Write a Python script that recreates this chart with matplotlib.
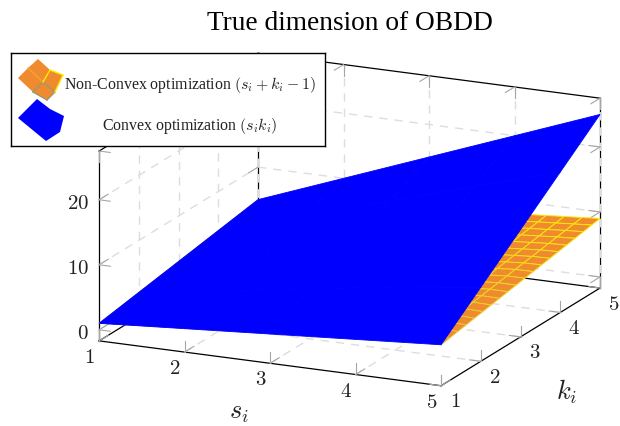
# -*- coding: utf-8 -*-
import numpy as np
import matplotlib; matplotlib.use("Agg")
import matplotlib.pyplot as plt
from matplotlib.colors import LinearSegmentedColormap
from mpl_toolkits.mplot3d import proj3d

TITLE = "True dimension of OBDD"
LEGEND_LABELS = [r"Non-Convex optimization $(s_i + k_i - 1)$", r"Convex optimization $(s_i k_i)$"]

s_ticks = [1, 2, 3, 4, 5]
k_ticks = [1, 2, 3, 4, 5]
z_ticks = [0, 10, 20]
z_lims = (-1.7, 27.5)

# convex surface, rows are k, columns are s
z_convex = [[1, 1.9, 2.8, 3.7, 4.6],
            [2, 4, 6, 8, 9.7],
            [3, 6, 9, 12, 14.8],
            [4, 8, 12, 16, 19.9],
            [5, 10, 15, 20, 25]]

# non-convex surface on the 20 sample mesh
samples = [1.00, 1.21, 1.42, 1.63, 1.84, 2.05, 2.26, 2.47, 2.68, 2.89,
           3.11, 3.32, 3.53, 3.74, 3.95, 4.16, 4.37, 4.58, 4.79, 5.00]
z_nonconvex = [
    [1.00, 1.21, 1.42, 1.63, 1.84, 2.05, 2.26, 2.47, 2.68, 2.89, 3.11, 3.32, 3.53, 3.74, 3.95, 4.16, 4.37, 4.58, 4.79, 4.60],
    [1.21, 1.42, 1.63, 1.84, 2.05, 2.26, 2.47, 2.68, 2.89, 3.11, 3.32, 3.53, 3.74, 3.95, 4.16, 4.37, 4.58, 4.79, 5.00, 4.83],
    [1.42, 1.63, 1.84, 2.05, 2.26, 2.47, 2.68, 2.89, 3.11, 3.32, 3.53, 3.74, 3.95, 4.16, 4.37, 4.58, 4.79, 5.00, 5.21, 5.06],
    [1.63, 1.84, 2.05, 2.26, 2.47, 2.68, 2.89, 3.11, 3.32, 3.53, 3.74, 3.95, 4.16, 4.37, 4.58, 4.79, 5.00, 5.21, 5.42, 5.29],
    [1.84, 2.05, 2.26, 2.47, 2.68, 2.89, 3.11, 3.32, 3.53, 3.74, 3.95, 4.16, 4.37, 4.58, 4.79, 5.00, 5.21, 5.42, 5.63, 5.53],
    [2.05, 2.26, 2.47, 2.68, 2.89, 3.11, 3.32, 3.53, 3.74, 3.95, 4.16, 4.37, 4.58, 4.79, 5.00, 5.21, 5.42, 5.63, 5.84, 5.76],
    [2.26, 2.47, 2.68, 2.89, 3.11, 3.32, 3.53, 3.74, 3.95, 4.16, 4.37, 4.58, 4.79, 5.00, 5.21, 5.42, 5.63, 5.84, 6.05, 5.99],
    [2.47, 2.68, 2.89, 3.11, 3.32, 3.53, 3.74, 3.95, 4.16, 4.37, 4.58, 4.79, 5.00, 5.21, 5.42, 5.63, 5.84, 6.05, 6.26, 6.22],
    [2.68, 2.89, 3.11, 3.32, 3.53, 3.74, 3.95, 4.16, 4.37, 4.58, 4.79, 5.00, 5.21, 5.42, 5.63, 5.84, 6.05, 6.26, 6.47, 6.45],
    [2.89, 3.11, 3.32, 3.53, 3.74, 3.95, 4.16, 4.37, 4.58, 4.79, 5.00, 5.21, 5.42, 5.63, 5.84, 6.05, 6.26, 6.47, 6.68, 6.68],
    [3.11, 3.32, 3.53, 3.74, 3.95, 4.16, 4.37, 4.58, 4.79, 5.00, 5.21, 5.42, 5.63, 5.84, 6.05, 6.26, 6.47, 6.68, 6.89, 6.92],
    [3.32, 3.53, 3.74, 3.95, 4.16, 4.37, 4.58, 4.79, 5.00, 5.21, 5.42, 5.63, 5.84, 6.05, 6.26, 6.47, 6.68, 6.89, 7.11, 7.15],
    [3.53, 3.74, 3.95, 4.16, 4.37, 4.58, 4.79, 5.00, 5.21, 5.42, 5.63, 5.84, 6.05, 6.26, 6.47, 6.68, 6.89, 7.11, 7.32, 7.38],
    [3.74, 3.95, 4.16, 4.37, 4.58, 4.79, 5.00, 5.21, 5.42, 5.63, 5.84, 6.05, 6.26, 6.47, 6.68, 6.89, 7.11, 7.32, 7.53, 7.61],
    [3.95, 4.16, 4.37, 4.58, 4.79, 5.00, 5.21, 5.42, 5.63, 5.84, 6.05, 6.26, 6.47, 6.68, 6.89, 7.11, 7.32, 7.53, 7.74, 7.84],
    [4.16, 4.37, 4.58, 4.79, 5.00, 5.21, 5.42, 5.63, 5.84, 6.05, 6.26, 6.47, 6.68, 6.89, 7.11, 7.32, 7.53, 7.74, 7.95, 8.07],
    [4.37, 4.58, 4.79, 5.00, 5.21, 5.42, 5.63, 5.84, 6.05, 6.26, 6.47, 6.68, 6.89, 7.11, 7.32, 7.53, 7.74, 7.95, 8.16, 8.31],
    [4.58, 4.79, 5.00, 5.21, 5.42, 5.63, 5.84, 6.05, 6.26, 6.47, 6.68, 6.89, 7.11, 7.32, 7.53, 7.74, 7.95, 8.16, 8.37, 8.54],
    [4.79, 5.00, 5.21, 5.42, 5.63, 5.84, 6.05, 6.26, 6.47, 6.68, 6.89, 7.11, 7.32, 7.53, 7.74, 7.95, 8.16, 8.37, 8.58, 8.77],
    [5.00, 5.21, 5.42, 5.63, 5.84, 6.05, 6.26, 6.47, 6.68, 6.89, 7.11, 7.32, 7.53, 7.74, 7.95, 8.16, 8.37, 8.58, 8.79, 9.00],
]

ORANGE = "#f08a2e"
BLUE = "#0000ff"
GRID = "#dddddd"
TICK = "#a6a6a6"
mesh_cmap = LinearSegmentedColormap.from_list("mesh", ["#9a9a72", "#e0c83a", "#ffee00"])

W, H = 620, 426
plt.rcParams.update({"font.family": "Liberation Serif", "mathtext.fontset": "cm"})
fig = plt.figure(figsize=(W/100, H/100), dpi=100)

# main 3d axes, the square is bigger than the figure on purpose
L = 553.2
ax = fig.add_axes([65.5/W, -77.6/H, L/W, L/H], projection="3d", computed_zorder=False)
ax.set_proj_type("ortho")
ax.view_init(elev=16.5, azim=-65.2)
ax.set_box_aspect((376.7, 379, 198))
ax.set_xlim(s_ticks[0], s_ticks[-1], view_margin=0)
ax.set_ylim(k_ticks[0], k_ticks[-1], view_margin=0)
ax.set_zlim(*z_lims, view_margin=0)
ax.set_axis_off()

s0, s1 = s_ticks[0], s_ticks[-1]
k0, k1 = k_ticks[0], k_ticks[-1]
z0, z1 = z_lims
ds, dk, dz = 0.13, 0.23, 1.7  # tick lengths in data units

def seg(a, b, **kw):
    ax.plot([a[0], b[0]], [a[1], b[1]], [a[2], b[2]], **kw)

axis_kw = dict(color="black", lw=0.9, zorder=1)
grid_kw = dict(color=GRID, lw=1.0, ls=(0, (6, 5)), zorder=2)
tick_kw = dict(color=TICK, lw=0.8, zorder=3)

# box edges, the two front verticals stay open
for a, b in [((s0, k0, z0), (s1, k0, z0)), ((s1, k0, z0), (s1, k1, z0)),
             ((s0, k0, z0), (s0, k1, z0)), ((s0, k1, z0), (s1, k1, z0)),
             ((s0, k0, z0), (s0, k0, z1)), ((s0, k1, z0), (s0, k1, z1)),
             ((s1, k1, z0), (s1, k1, z1)), ((s0, k0, z1), (s0, k1, z1)),
             ((s0, k1, z1), (s1, k1, z1))]:
    seg(a, b, **axis_kw)

for s in s_ticks:
    seg((s, k1, z0), (s, k1, z1), **grid_kw)
    if s0 < s < s1:
        seg((s, k0, z0), (s, k1, z0), **grid_kw)
    seg((s, k0, z0), (s, k0, z0+dz), **tick_kw)
    seg((s, k0, z0), (s, k0+dk, z0), **tick_kw)
    seg((s, k1, z1), (s, k1, z1-dz), **tick_kw)
    seg((s, k1, z1), (s, k1-dk, z1), **tick_kw)

for k in k_ticks:
    if k > k0:
        seg((s0, k, z0), (s0, k, z1), **grid_kw)
    if k0 < k < k1:
        seg((s0, k, z0), (s1, k, z0), **grid_kw)
    seg((s1, k, z0), (s1, k, z0+dz), **tick_kw)
    seg((s1, k, z0), (s1-ds, k, z0), **tick_kw)
    seg((s0, k, z1), (s0, k, z1-dz), **tick_kw)
    seg((s0, k, z1), (s0+ds, k, z1), **tick_kw)

for z in z_ticks:
    seg((s0, k0, z), (s0, k1, z), **grid_kw)
    seg((s0, k1, z), (s1, k1, z), **grid_kw)
    seg((s0, k0, z), (s0, k0+dk, z), **tick_kw)
    seg((s0, k0, z), (s0+ds, k0, z), **tick_kw)
    seg((s1, k1, z), (s1-ds, k1, z), **tick_kw)
    seg((s1, k1, z), (s1, k1-dk, z), **tick_kw)
    seg((s0, k1, z), (s0, k1-dk, z), **tick_kw)

# surfaces, orange first so the blue one hides it
Sn, Kn = np.meshgrid(samples, samples)
Zn = np.array(z_nonconvex)
orange = ax.plot_surface(Sn, Kn, Zn, rstride=1, cstride=1, color=ORANGE, shade=False,
                         linewidth=0.7, zorder=5)
zc = (Zn[:-1, :-1] + Zn[1:, 1:]) / 2
orange.set_edgecolor(mesh_cmap((zc.ravel() - Zn.min()) / (Zn.max() - Zn.min())))

Sc, Kc = np.meshgrid(s_ticks, k_ticks)
ax.plot_surface(Sc, Kc, np.array(z_convex), rstride=1, cstride=1, color=BLUE, edgecolor=BLUE,
                shade=False, linewidth=0.6, zorder=6)

def label(txt, s, k, z, dx, dy, size=15):
    x, y, _ = proj3d.proj_transform(s, k, z, ax.get_proj())
    ax.annotate(txt, (x, y), xytext=(dx, -dy), textcoords="offset pixels",
                ha="center", va="center", fontsize=size, color="#222222")

for s in s_ticks:
    label(f"${s}$", s, k0, z0, -9.5, 17.5)
for k in k_ticks:
    label(f"${k}$", s1, k, z0, 14, 17)
for z in z_ticks:
    x, y, _ = proj3d.proj_transform(s0, k0, z, ax.get_proj())
    ax.annotate(f"${z}$", (x, y), xytext=(-10, -5), textcoords="offset pixels",
                ha="right", va="center", fontsize=15, color="#222222")
label(r"$s_i$", s_ticks[2], k0, z0, -31, 51, size=19)
label(r"$k_i$", s1, k_ticks[2], z0, 46.5, 55, size=19)

fig.suptitle(TITLE, x=350/W, y=1-24/H, va="center", fontsize=19.7)

# legend box, drawn as its own small axes in picture pixels
lg = fig.add_axes([10.5/W, 1-146/H, 314/W, 93/H], zorder=10)
lg.set_xlim(10.5, 324.5); lg.set_ylim(146, 53)
lg.set_xticks([]); lg.set_yticks([])
for sp in lg.spines.values():
    sp.set_linewidth(1.0)

# legend image of the orange mesh, 3x3 nodes
ix = np.array([[18, 28, 38], [33, 43, 50], [47, 55, 63]])
iy = np.array([[78, 68, 59], [92, 82, 70], [100, 92, 75]])
lg.fill(np.r_[ix[0], ix[:, 2], ix[2, ::-1], ix[::-1, 0]], np.r_[iy[0], iy[:, 2], iy[2, ::-1], iy[::-1, 0]],
        color=ORANGE, lw=0)
lg.plot(ix[:2, 1], iy[:2, 1], color="#f5a833", lw=0.9)
lg.plot(ix[1, :2], iy[1, :2], color="#9a9a72", lw=1.0)
lg.plot(ix[1:, 1], iy[1:, 1], color="#9a9a72", lw=1.0)
lg.plot(ix[1:, 0], iy[1:, 0], color="#9a9a72", lw=1.0)
lg.plot(ix[2, :2], iy[2, :2], color="#9a9a72", lw=1.0)
lg.plot(ix[1, 1:], iy[1, 1:], color="#ffee00", lw=1.0)
lg.plot(ix[1:, 2], iy[1:, 2], color="#ffee00", lw=1.0)
lg.plot(ix[2, 1:], iy[2, 1:], color="#ffee00", lw=1.0)
lg.fill([18, 37, 50, 64, 60, 46], [118, 99, 109, 116, 132, 141], color=BLUE, lw=0)

lg.text(190, 85, LEGEND_LABELS[0], ha="center", va="center", fontsize=11.4, color="#222222")
lg.text(190, 126, LEGEND_LABELS[1], ha="center", va="center", fontsize=11.4, color="#222222")

fig.savefig("out.png", dpi=100)
